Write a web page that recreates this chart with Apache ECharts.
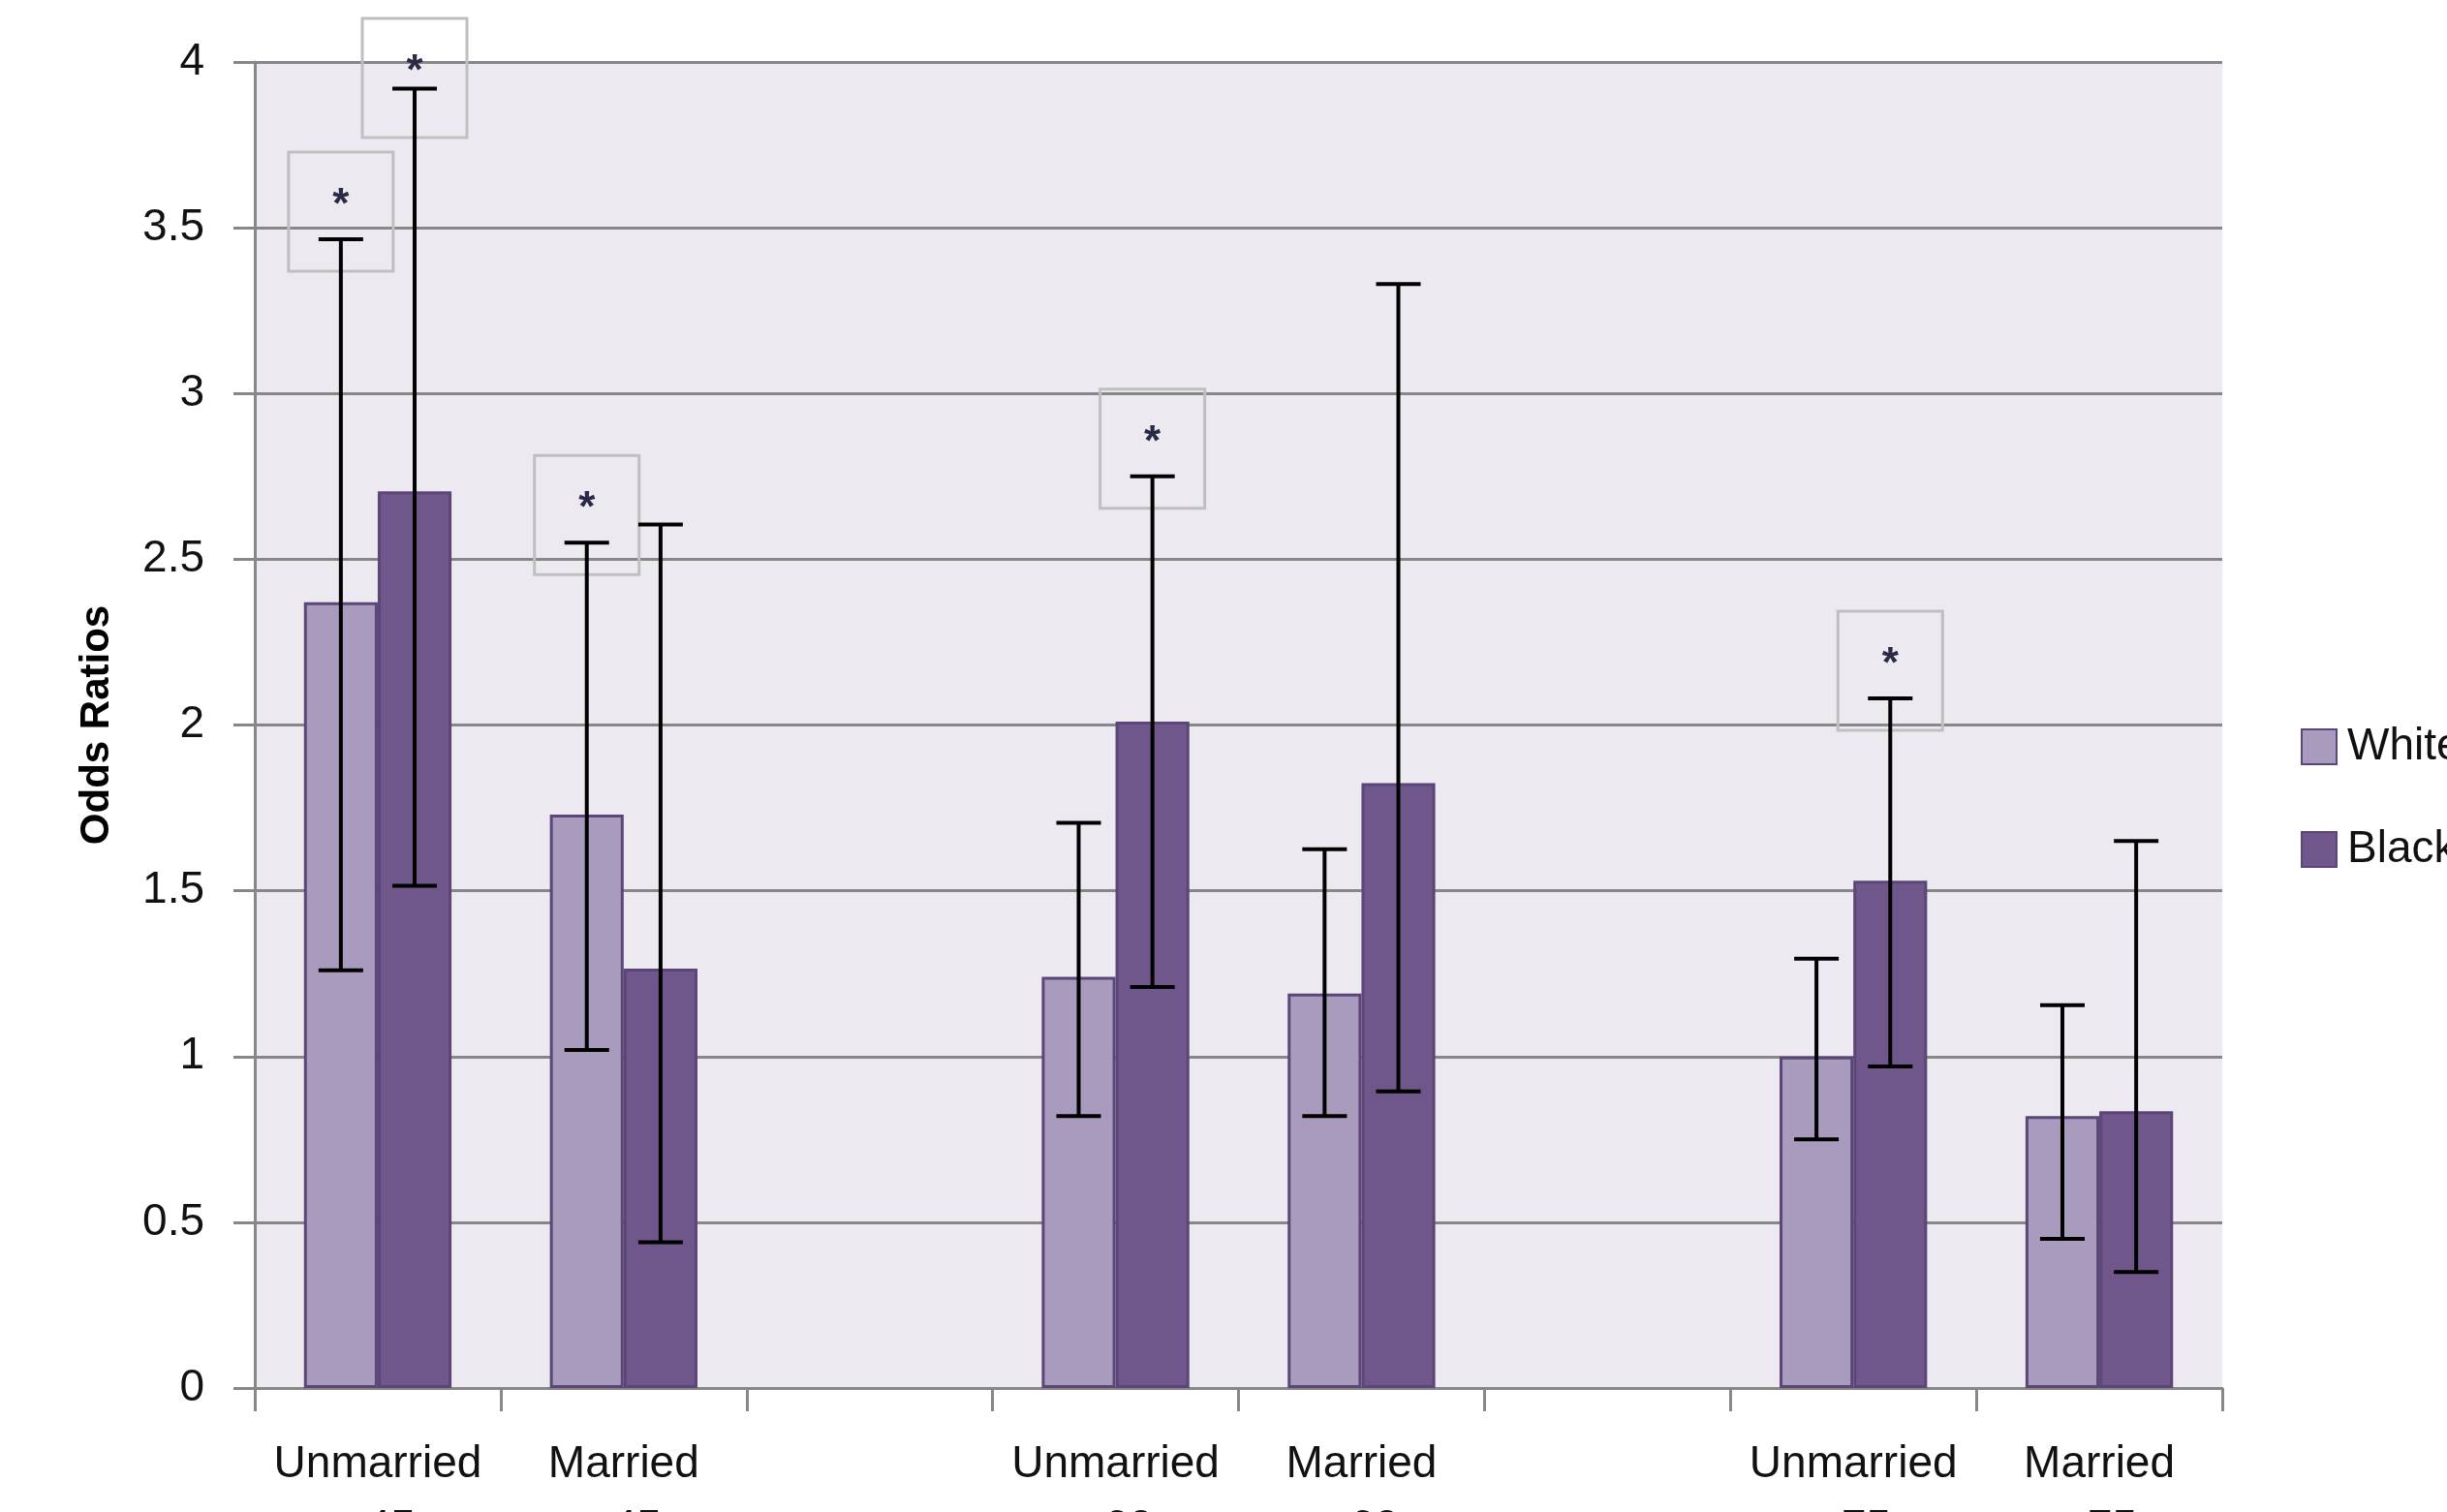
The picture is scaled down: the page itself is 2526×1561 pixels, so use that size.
<!DOCTYPE html>
<html>
<head>
<meta charset="utf-8">
<script src="https://cdn.jsdelivr.net/npm/echarts@6/dist/echarts.min.js"></script>
<style>
  html, body { margin: 0; padding: 0; background: #ffffff; }
  #chart { width: 2526px; height: 1561px; }
</style>
</head>
<body>
<div id="chart"></div>
<script>
// Odds ratios by marital status and age group, with 95% confidence intervals
const categories = ['Unmarried\n<45', 'Married\n<45', '', 'Unmarried\n<60', 'Married\n<60', '', 'Unmarried\n<75', 'Married\n<75'];
const seriesNames = ['White', 'Black'];

const whiteOR    = [2.37, 1.73, null, 1.24, 1.19, null, 1.00, 0.82];
const whiteLower = [1.26, 1.02, null, 0.82, 0.82, null, 0.75, 0.45];
const whiteUpper = [3.465, 2.55, null, 1.705, 1.625, null, 1.295, 1.155];

const blackOR    = [2.705, 1.265, null, 2.01, 1.825, null, 1.53, 0.835];
const blackLower = [1.515, 0.44, null, 1.21, 0.895, null, 0.97, 0.35];
const blackUpper = [3.92, 2.605, null, 2.75, 3.33, null, 2.08, 1.65];

// significance markers (boxed asterisk above the upper CI)
const whiteSignificant = [true, true, false, false, false, false, false, false];
const blackSignificant = [true, false, false, true, false, false, true, false];

const yMin = 0, yMax = 4, yStep = 0.5;

const FONT = '"Liberation Sans", Arial, sans-serif';
const GRID_GREY = '#878787';
const BAR_EDGE = '#5b4677';
const BAR_FRACTION = 0.3;   // each bar takes 30% of a category

function intervalData(lower, upper) {
  const out = [];
  lower.forEach((lo, i) => {
    if (lo != null && upper[i] != null) out.push([i, lo, upper[i]]);
  });
  return out;
}
function markerData(flags, upper) {
  const out = [];
  flags.forEach((f, i) => { if (f) out.push([i, upper[i]]); });
  return out;
}

// whisker with end caps, centred on the bar of the given side (-1 left, +1 right)
function errorBarRenderer(side) {
  return function (params, api) {
    const idx = api.value(0);
    const lo = api.coord([idx, api.value(1)]);
    const hi = api.coord([idx, api.value(2)]);
    const catW = api.size([1, 0])[0];
    const x = hi[0] + side * catW * BAR_FRACTION / 2;
    const half = 23;
    const st = { stroke: '#000000', lineWidth: 4 };
    return {
      type: 'group',
      children: [
        { type: 'line', shape: { x1: x, y1: hi[1], x2: x, y2: lo[1] }, style: st },
        { type: 'line', shape: { x1: x - half, y1: hi[1], x2: x + half, y2: hi[1] }, style: st },
        { type: 'line', shape: { x1: x - half, y1: lo[1], x2: x + half, y2: lo[1] }, style: st }
      ]
    };
  };
}

// grey box with an asterisk sitting over the upper whisker
function markerRenderer(side) {
  return function (params, api) {
    const idx = api.value(0);
    const p = api.coord([idx, api.value(1)]);
    const catW = api.size([1, 0])[0];
    const x = p[0] + side * catW * BAR_FRACTION / 2;
    const top = Math.max(p[1] - 90, 19);
    return {
      type: 'group',
      children: [
        { type: 'rect', z2: 1,
          shape: { x: x - 54, y: top, width: 108, height: 123 },
          style: { fill: 'rgba(0,0,0,0)', stroke: '#bfbfbf', lineWidth: 3 } },
        { type: 'text', z2: 2,
          style: { x: x, y: top + 56, text: '*', fill: '#2a2a46',
                   font: 'bold 44px ' + FONT, align: 'center', verticalAlign: 'middle' } }
      ]
    };
  };
}

const chart = echarts.init(document.getElementById('chart'), null, { renderer: 'canvas' });

chart.setOption({
  animation: false,
  backgroundColor: '#ffffff',
  grid: {
    left: 263, right: 232, top: 64, bottom: 128,
    containLabel: false,
    outerBoundsMode: 'none',
    show: true, backgroundColor: '#ECEAF0', borderWidth: 0
  },
  legend: {
    orient: 'vertical',
    left: 2375, top: 748,
    padding: 0,
    itemWidth: 36, itemHeight: 36, itemGap: 60,
    icon: 'rect',
    data: seriesNames,
    textStyle: { fontSize: 46, fontFamily: FONT, color: '#111111', padding: [0, 0, 0, 6] }
  },
  xAxis: {
    type: 'category',
    data: categories,
    axisLine: { show: true, lineStyle: { color: GRID_GREY, width: 3 } },
    axisTick: { show: true, length: 24, lineStyle: { color: GRID_GREY, width: 3 } },
    axisLabel: { interval: 0, fontSize: 46, lineHeight: 66, margin: 46, color: '#111111', fontFamily: FONT },
    splitLine: { show: false }
  },
  yAxis: {
    type: 'value',
    min: yMin, max: yMax, interval: yStep,
    name: 'Odds Ratios',
    nameLocation: 'middle',
    nameGap: 142,
    nameTextStyle: { fontSize: 42, fontWeight: 'bold', fontFamily: FONT, color: '#000000' },
    axisLine: { show: true, lineStyle: { color: GRID_GREY, width: 3 } },
    axisTick: { show: true, length: 22, lineStyle: { color: GRID_GREY, width: 3 } },
    axisLabel: { fontSize: 46, margin: 52, color: '#111111', fontFamily: FONT },
    splitLine: { show: true, lineStyle: { color: GRID_GREY, width: 3 } }
  },
  series: [
    {
      name: seriesNames[0], type: 'bar', data: whiteOR,
      barWidth: '30%', barGap: '0%',
      itemStyle: { color: '#a99bbd', borderColor: BAR_EDGE, borderWidth: 3 },
      z: 2
    },
    {
      name: seriesNames[1], type: 'bar', data: blackOR,
      barWidth: '30%', barGap: '0%',
      itemStyle: { color: '#6f578c', borderColor: BAR_EDGE, borderWidth: 3 },
      z: 2
    },
    {
      type: 'custom', name: 'boxW', data: markerData(whiteSignificant, whiteUpper),
      renderItem: markerRenderer(-1), z: 3, silent: true, clip: false
    },
    {
      type: 'custom', name: 'boxB', data: markerData(blackSignificant, blackUpper),
      renderItem: markerRenderer(1), z: 3, silent: true, clip: false
    },
    {
      type: 'custom', name: 'ciW', data: intervalData(whiteLower, whiteUpper),
      renderItem: errorBarRenderer(-1), z: 4, silent: true
    },
    {
      type: 'custom', name: 'ciB', data: intervalData(blackLower, blackUpper),
      renderItem: errorBarRenderer(1), z: 4, silent: true
    }
  ]
});
</script>
</body>
</html>
